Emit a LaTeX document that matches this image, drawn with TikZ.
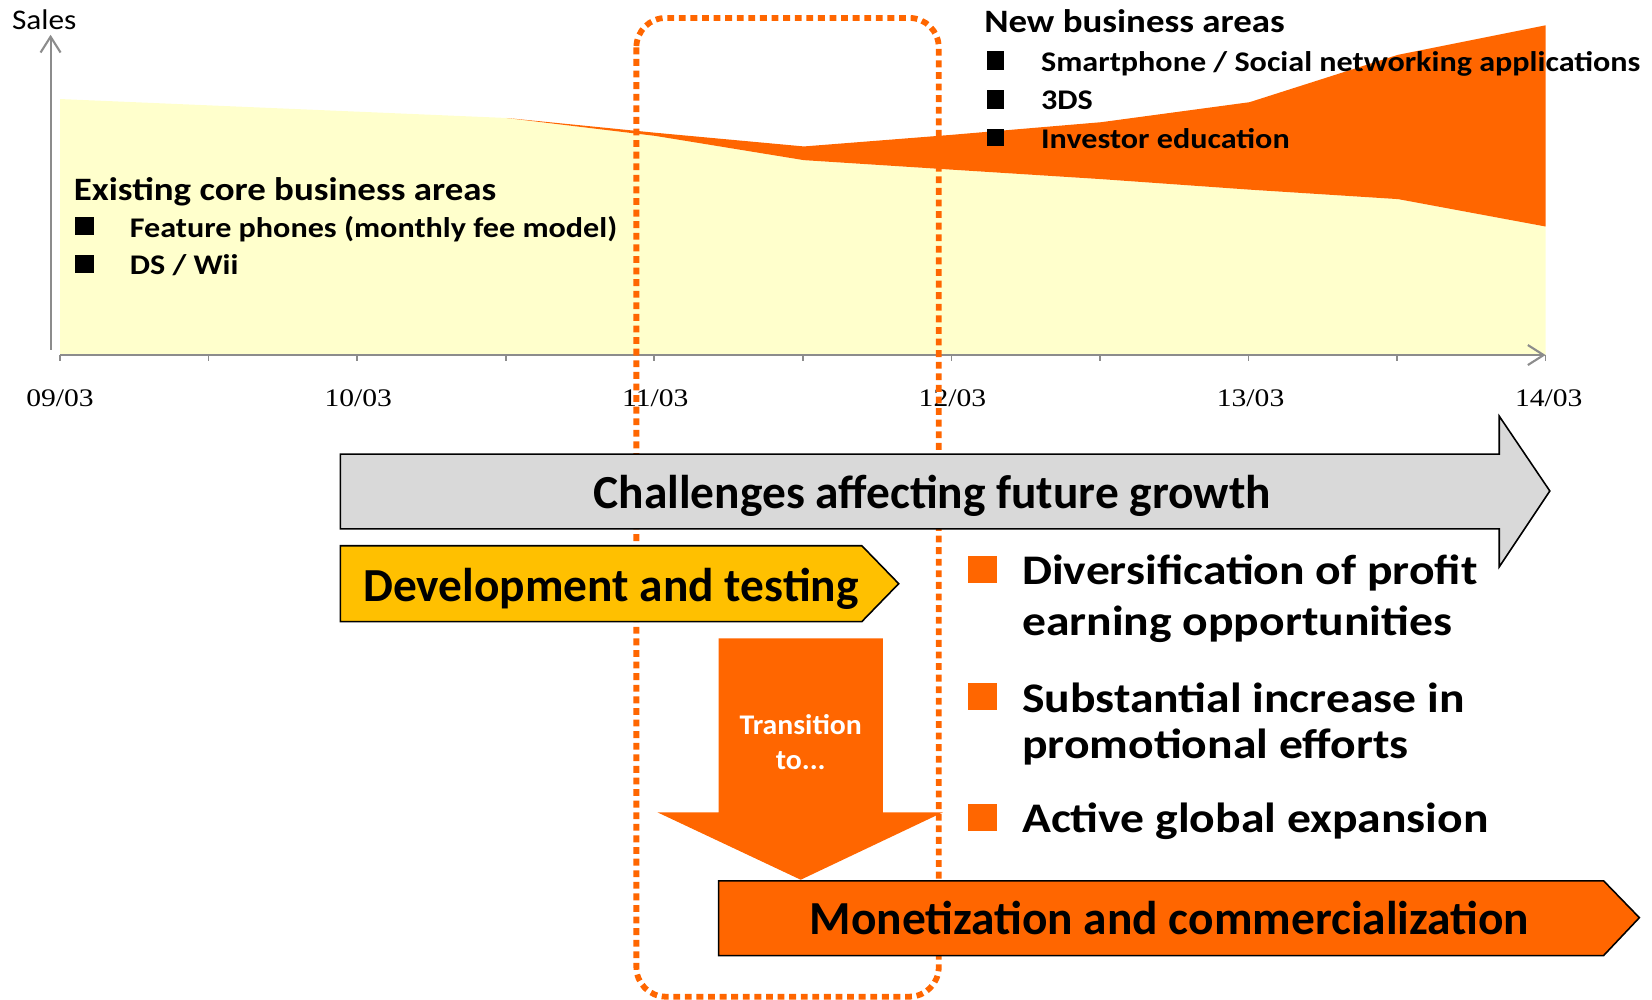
\documentclass[tikz,border=0pt]{standalone}
\usepackage{fontspec}
\setmainfont{Carlito}
\newfontfamily\widefont[FakeStretch=1.13]{Carlito}
\newfontfamily\salesfont[FakeStretch=1.1]{Carlito}
\newfontfamily\labelfont[FakeStretch=1.045]{Carlito}
\newfontfamily\datefont[FakeStretch=1.17]{Liberation Serif}
\usetikzlibrary{arrows.meta}
\definecolor{bizorange}{HTML}{FF6600}
\definecolor{coreyellow}{HTML}{FFFFCC}
\definecolor{devgold}{HTML}{FFC000}
\definecolor{growgray}{HTML}{D9D9D9}
\definecolor{axisgray}{HTML}{8C8C8C}
\begin{document}
\begin{tikzpicture}[x=1pt,y=-1pt,
  axisline/.style={draw=axisgray, line width=2pt, -{Straight Barb[length=15pt,width=19pt]}},
  tickmark/.style={draw=axisgray, line width=1.5pt},
  datelabel/.style={font=\datefont\fontsize{24}{28}\selectfont, inner sep=0pt},
  axislabel/.style={font=\salesfont\fontsize{27}{32}\selectfont, inner sep=0pt},
  heading/.style={font=\widefont\bfseries\fontsize{31}{37}\selectfont, anchor=base west, inner sep=0pt},
  item/.style={font=\widefont\bfseries\fontsize{27}{32}\selectfont, anchor=base west, inner sep=0pt},
  bigtext/.style={font=\bfseries\fontsize{45}{54}\selectfont, anchor=base, inner sep=0pt},
  point/.style={font=\widefont\bfseries\fontsize{40}{48}\selectfont, anchor=base west, inner sep=0pt},
  smalltext/.style={font=\labelfont\bfseries\fontsize{27}{33}\selectfont, anchor=base, inner sep=0pt, text=white},
  outlined/.style={draw=black, line width=1.5pt, line join=miter},
  phasebox/.style={draw=bizorange, line width=5.5pt, dash pattern=on 6.5pt off 4.5pt, rounded corners=28pt}
]
\useasboundingbox (0,0) rectangle (1568,949);

% stacked sales areas
\fill[coreyellow] (57,337) -- (57,94) -- (481,112) -- (622,129) -- (763,152) -- (903,161)
  -- (1045,170) -- (1186,180) -- (1327,189) -- (1467,215) -- (1467,337) -- cycle;
\fill[bizorange] (481,112) -- (622,126) -- (763,139) -- (903,128) -- (1045,116) -- (1186,97)
  -- (1327,52) -- (1467,24) -- (1467,215) -- (1327,189) -- (1186,180) -- (1045,170)
  -- (903,161) -- (763,152) -- (622,129) -- cycle;

% axes
\coordinate (yfoot) at (48,332);
\coordinate (ytop) at (48,33);
\coordinate (xorig) at (57,337);
\coordinate (xend) at (1467,337);
\draw[axisline] (yfoot) -- (ytop);
\draw[axisline] (xorig) -- (xend);
\foreach \i in {0,...,10}
  \draw[tickmark] (57+141*\i,337) -- (57+141*\i,343);
\node[axislabel] (sales) at (42,19) {Sales};

\node[datelabel] (d09) at (57,378) {09/03};
\node[datelabel] (d10) at (340,378) {10/03};
\node[datelabel] (d11) at (622,378) {11/03};
\node[datelabel] (d12) at (904,378) {12/03};
\node[datelabel] (d13) at (1187,378) {13/03};
\node[datelabel] (d14) at (1470,378) {14/03};

% existing business
\node[heading] (core) at (70,190) {Existing core business areas};
\fill (71,206) rectangle (89,223);
\node[item] (fp) at (123,225) {Feature phones (monthly fee model)};
\fill (71,242) rectangle (89,259);
\node[item] (ds) at (123,261) {DS / Wii};

% new business
\node[heading] (newbiz) at (934,31) {New business areas};
\fill (937,48) rectangle (953,66);
\node[item] (sp) at (988,68) {Smartphone / Social networking applications};
\fill (937,85) rectangle (953,103);
\node[item] (tds) at (988,104) {3DS};
\fill (937,122) rectangle (953,139);
\node[item] (inv) at (988,141) {Investor education};

% transition period
\draw[phasebox] (604,17) rectangle (891,946);

% phase arrows
\filldraw[fill=growgray, outlined] (323,431) -- (1423,431) -- (1423,395) -- (1471,466)
  -- (1423,538) -- (1423,502) -- (323,502) -- cycle;
\node[bigtext] (grow) at (885,483) {Challenges affecting future growth};

\filldraw[fill=devgold, outlined] (323,518) -- (818,518) -- (853,554) -- (818,590)
  -- (323,590) -- cycle;
\node[bigtext] (dev) at (580,571) {Development and testing};

\fill[bizorange] (682,606) -- (838,606) -- (838,771) -- (895,771) -- (760,835)
  -- (624,771) -- (682,771) -- cycle;
\node[smalltext] (tr1) at (760,697) {Transition};
\node[smalltext] (tr2) at (760,730) {to...};

\filldraw[fill=bizorange, outlined] (682,836) -- (1522,836) -- (1556,871) -- (1522,907)
  -- (682,907) -- cycle;
\node[bigtext] (mon) at (1110,887) {Monetization and commercialization};

% challenges list
\fill[bizorange] (919,528) rectangle (946,553);
\node[point] (p1a) at (970,555) {Diversification of profit};
\node[point] (p1b) at (970,603) {earning opportunities};
\fill[bizorange] (919,648) rectangle (946,674);
\node[point] (p2a) at (970,676) {Substantial increase in};
\node[point] (p2b) at (970,720) {promotional efforts};
\fill[bizorange] (919,763) rectangle (946,789);
\node[point] (p3) at (970,790) {Active global expansion};
\end{tikzpicture}
\end{document}
